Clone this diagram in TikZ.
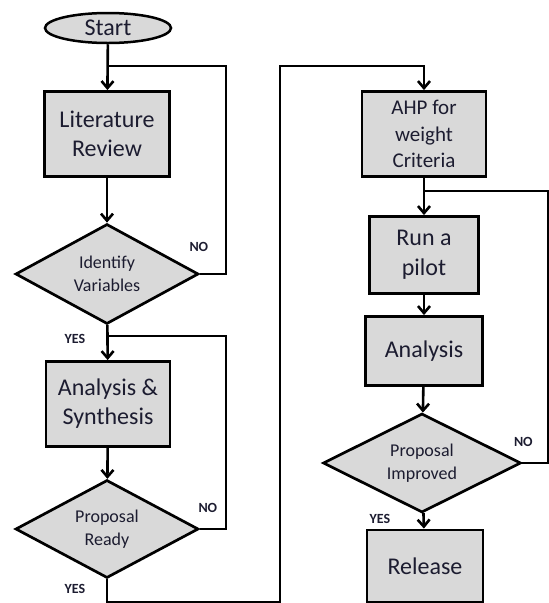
\documentclass[tikz,border=0pt]{standalone}
\usepackage{fontspec}
\setmainfont{Carlito}
\usetikzlibrary{shapes,calc,arrows.meta}
\definecolor{boxgray}{HTML}{D9D9D9}
\definecolor{txtnavy}{HTML}{1C1C30}

\begin{document}
\begin{tikzpicture}[x=1pt,y=-1pt,>={Straight Barb[length=7pt,width=12pt]},
  box/.style={draw,line width=2.9pt,fill=boxgray,text=txtnavy,align=center,inner sep=0pt,font=\fontsize{24}{29}\selectfont},
  term/.style={ellipse,draw,line width=2.5pt,fill=boxgray,text=txtnavy,inner sep=0pt,minimum width=126pt,minimum height=30pt,font=\fontsize{24}{29}\selectfont},
  dec/.style={diamond,aspect=1.85,draw,line width=2.7pt,fill=boxgray,text=txtnavy,align=center,inner sep=0pt,font=\fontsize{18}{23}\selectfont},
  lbl/.style={text=txtnavy,inner sep=0pt,font=\bfseries\fontsize{14}{16}\selectfont},
  every path/.style={line width=2.6pt}]
  \useasboundingbox (0,0) rectangle (549,603);

  \node[term] (N0) at (108,28) {Start};
  \node[box,minimum width=125pt,minimum height=85pt] (N1) at ($(N0)+(-1,106)$) {Literature\\Review};
  \node[dec,minimum width=183pt,minimum height=100pt] (N2) at ($(N1)+(0,140)$) {Identify\\Variables};
  \node[box,minimum width=124pt,minimum height=85pt] (N3) at ($(N2)+(1,130)$) {Analysis \&\\Synthesis};
  \node[dec,minimum width=183pt,minimum height=98pt] (N4) at ($(N3)+(-1,125)$) {Proposal\\Ready};
  \node[box,minimum width=124pt,minimum height=85pt,font=\fontsize{21}{26.5}\selectfont] (N5) at ($(N1)+(317,0)$) {AHP for\\weight\\Criteria};
  \node[box,minimum width=109pt,minimum height=77pt,font=\fontsize{24}{30}\selectfont] (N6) at ($(N5)+(0,121)$) {Run a\\pilot};
  \node[box,minimum width=117pt,minimum height=69pt] (N7) at ($(N6)+(0,96)$) {Analysis};
  \node[dec,minimum width=198pt,minimum height=99pt] (N8) at ($(N7)+(-2,112)$) {Proposal\\Improved};
  \node[box,minimum width=116pt,minimum height=72pt] (N9) at ($(N8)+(3,103)$) {Release};

  \node[lbl] (L0) at ($(N2.east)+(-1,-27)$) {NO};
  \node[lbl] (L1) at ($(N2.south)+(-32,14)$) {YES};
  \node[lbl] (L2) at ($(N4.east)+(8,-21)$) {NO};
  \node[lbl] (L3) at ($(N4.south)+(-32,10)$) {YES};
  \node[lbl] (L4) at ($(N8.east)+(1,-21)$) {NO};
  \node[lbl] (L5) at ($(N8.south)+(-42,5)$) {YES};

  % junctions and bends of the loops
  \coordinate (J0) at ($(N1.north)+(0,-24)$);
  \coordinate (J1) at ($(N3.north)+(0,-24)$);
  \coordinate (J2) at ($(N6.north)+(0,-24)$);
  \coordinate (B0) at ($(N2.east)+(26,0)$);
  \coordinate (B1) at ($(N4.east)+(26,0)$);
  \coordinate (B2) at ($(N8.east)+(26,0)$);
  \coordinate (B3) at ($(N4.south)+(0,23)$);
  \coordinate (B4) at ($(N5.north)+(-144,-24)$);

  \path[->] (N0) edge (N1) (N1) edge (N2) (N2) edge (N3) (N3) edge (N4);
  \path[->] (N5) edge (N6) (N6) edge (N7) (N7) edge (N8) (N8) edge (N9);
  \draw (N2.east) -- (B0) |- (J0);
  \draw (N4.east) -- (B1) |- (J1);
  \draw (N8.east) -- (B2) |- (J2);
  \draw[->] (N4.south) -- (B3) -| (B4) -| (N5.north);
\end{tikzpicture}
\end{document}
